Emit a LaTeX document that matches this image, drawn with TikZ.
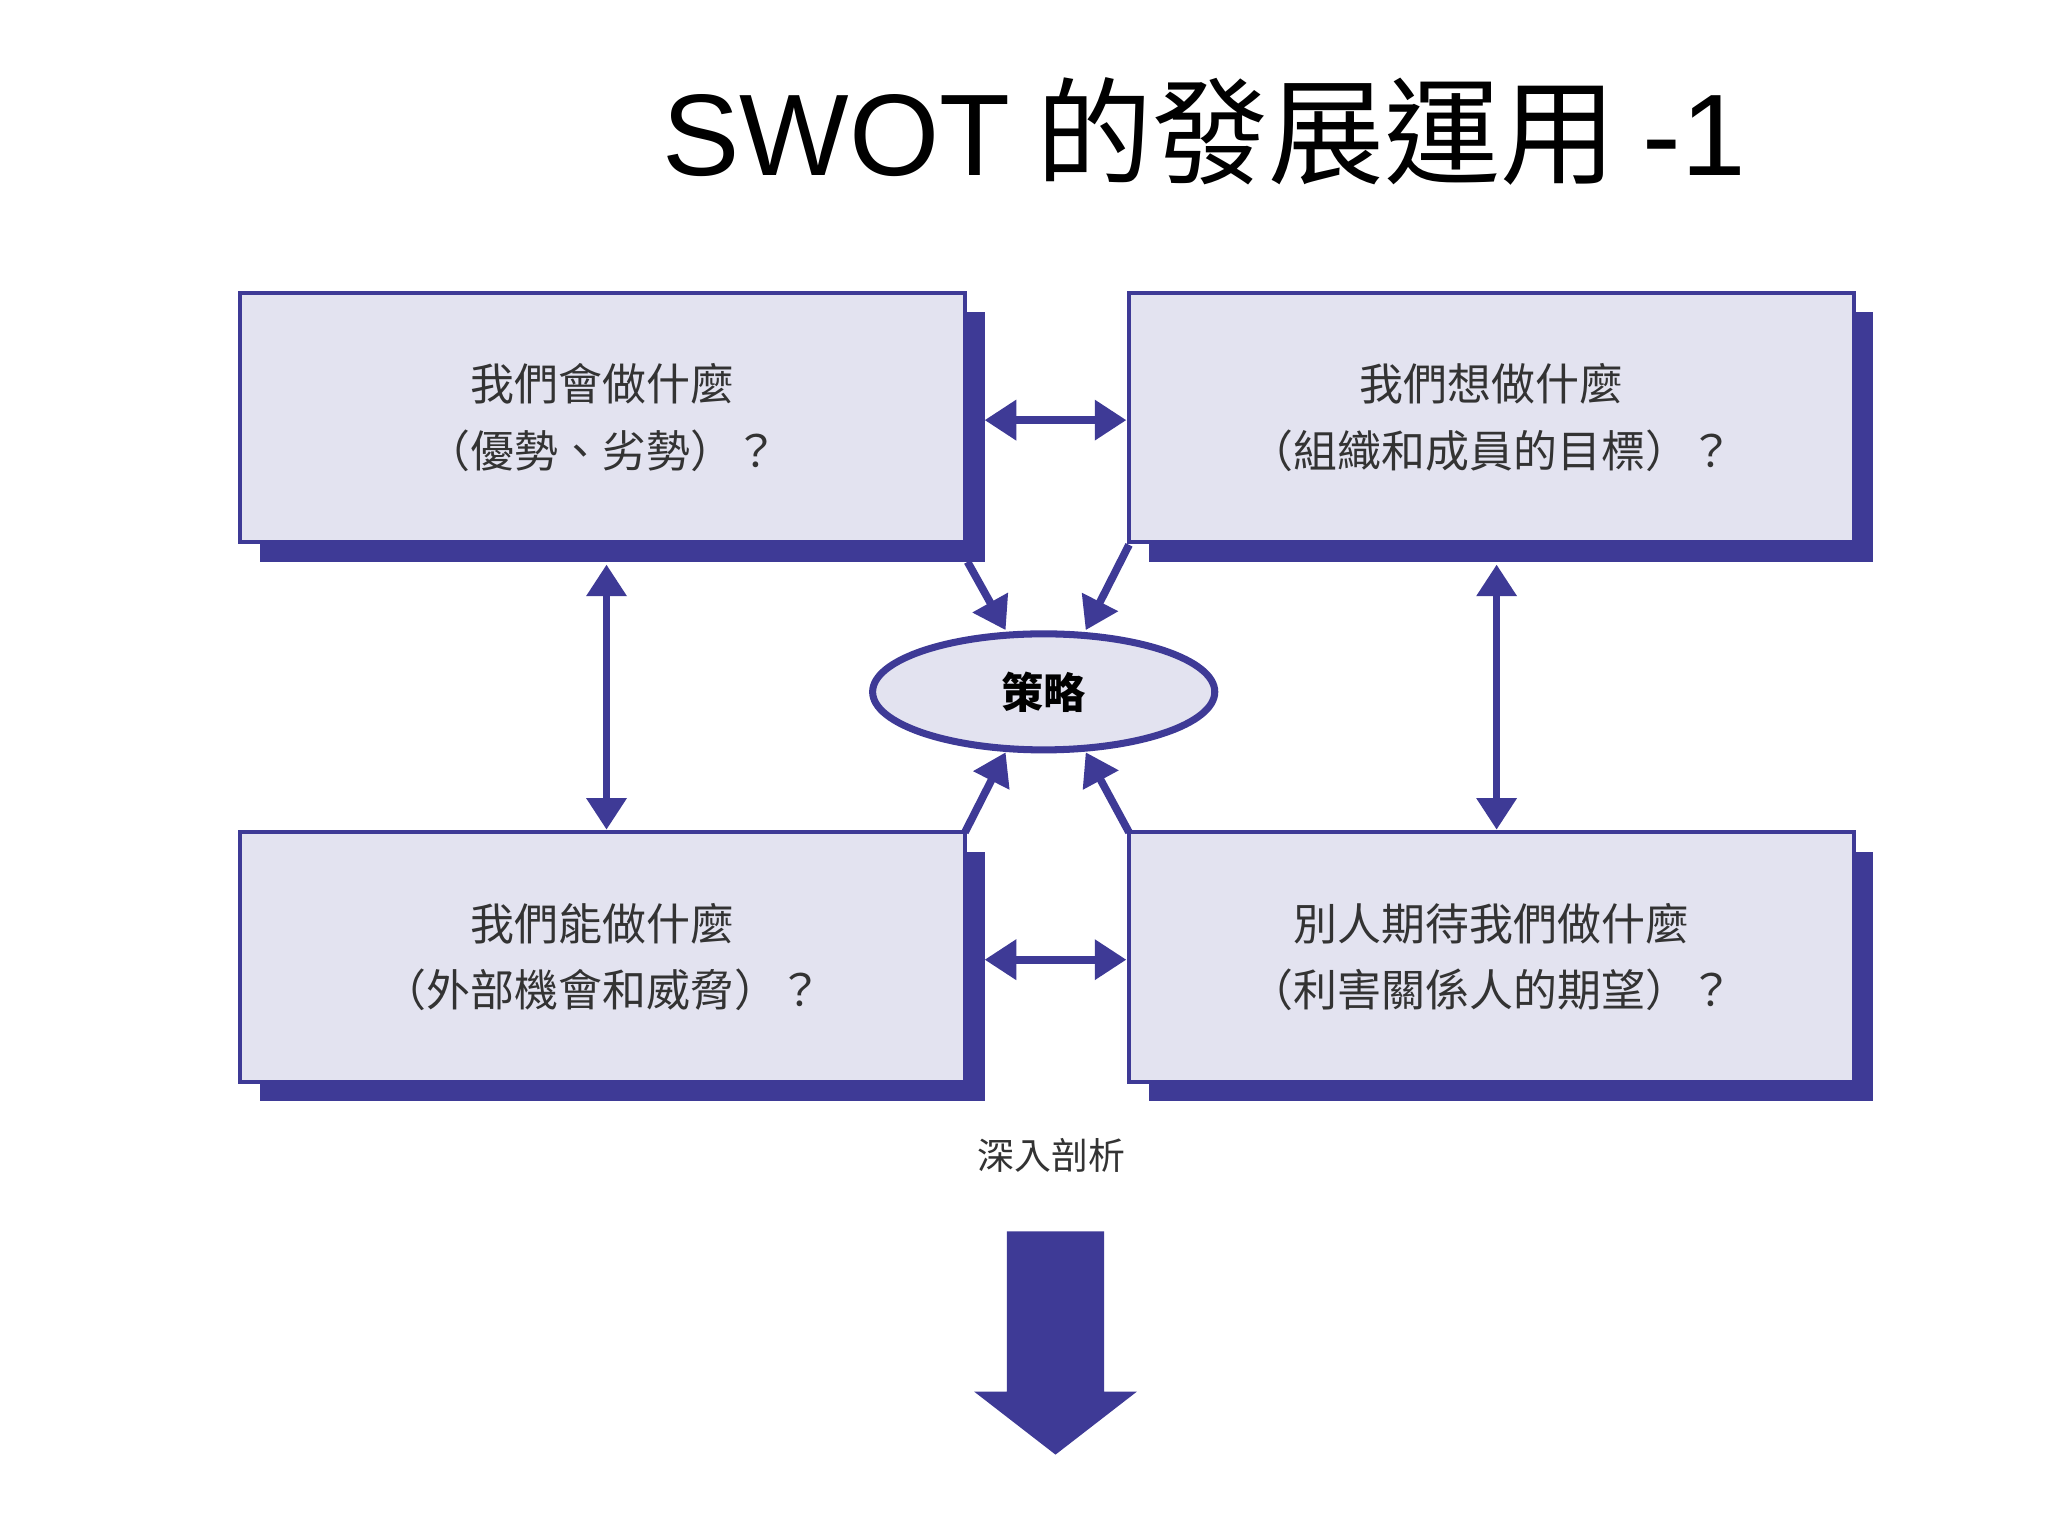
\documentclass[tikz,border=0pt]{standalone}
\usepackage{fontspec}
\setmainfont{Noto Sans CJK TC}
\newfontfamily\latn{Liberation Sans}
\usetikzlibrary{arrows.meta,shapes.geometric}
\definecolor{navy}{HTML}{3E3A96}
\definecolor{lav}{HTML}{E3E3F0}
\begin{document}
\begin{tikzpicture}[x={(0.013128cm,0)},y={(0,-0.013128cm)},
 box/.style={draw=navy,line width=1.2pt,fill=lav},
 shadow/.style={fill=navy},
 txt/.style={font=\fontsize{12.5}{19}\selectfont,align=center,text=black!80},
 arr/.style={draw=navy,line width=2.2pt,-{Triangle[length=9pt,width=11pt]}},
 darr/.style={draw=navy,line width=2.2pt,{Triangle[length=9pt,width=11pt]}-{Triangle[length=9pt,width=11pt]}}]
\useasboundingbox[fill=white] (0,0) rectangle (1560,1170);
\node[font=\fontsize{33}{40}\selectfont] (title) at (917,100) {{\latn SWOT} 的發展運用 {\latn -1}};
% shadows
\fill[shadow] (198,238) rectangle (750,428);
\fill[shadow] (875,238) rectangle (1427,428);
\fill[shadow] (198,649) rectangle (750,839);
\fill[shadow] (875,649) rectangle (1427,839);
\draw[box] (183,223) rectangle (735,413) node[midway,txt] (b1) {我們會做什麼\\（優勢、劣勢）？};
\draw[box] (860,223) rectangle (1412,413) node[midway,txt] (b2) {我們想做什麼\\（組織和成員的目標）？};
\draw[box] (183,634) rectangle (735,824) node[midway,txt] (b3) {我們能做什麼\\（外部機會和威脅）？};
\draw[box] (860,634) rectangle (1412,824) node[midway,txt] (b4) {別人期待我們做什麼\\（利害關係人的期望）？};
\node[ellipse,draw=navy,line width=2pt,fill=lav,minimum width=260\pgflinewidth*0+3.42cm,minimum height=1.16cm,font=\fontsize{12}{14}\selectfont\bfseries] (s) at (795,527) {策略};
\coordinate (h1a) at (750,320); \coordinate (h1b) at (858,320);
\coordinate (h2a) at (750,731); \coordinate (h2b) at (858,731);
\coordinate (v1a) at (462,430); \coordinate (v1b) at (462,632);
\coordinate (v2a) at (1140,430); \coordinate (v2b) at (1140,632);
\draw[darr] (h1a) -- (h1b);
\draw[darr] (h2a) -- (h2b);
\draw[darr] (v1a) -- (v1b);
\draw[darr] (v2a) -- (v2b);
\coordinate (d1) at (737,428); \coordinate (d1e) at (766,480);
\coordinate (d2) at (860,415); \coordinate (d2e) at (827,480);
\coordinate (d3) at (735,634); \coordinate (d3e) at (766,573);
\coordinate (d4) at (860,634); \coordinate (d4e) at (827,573);
\draw[arr] (d1) -- (d1e);
\draw[arr] (d2) -- (d2e);
\draw[arr] (d3) -- (d3e);
\draw[arr] (d4) -- (d4e);
\node[font=\fontsize{10.5}{12}\selectfont,text=black!80] (lbl) at (801,880) {深入剖析};
\fill[navy] (767,938) -- (841,938) -- (841,1060) -- (866,1060) -- (804,1108) -- (742,1060) -- (767,1060) -- cycle;
\end{tikzpicture}
\end{document}
